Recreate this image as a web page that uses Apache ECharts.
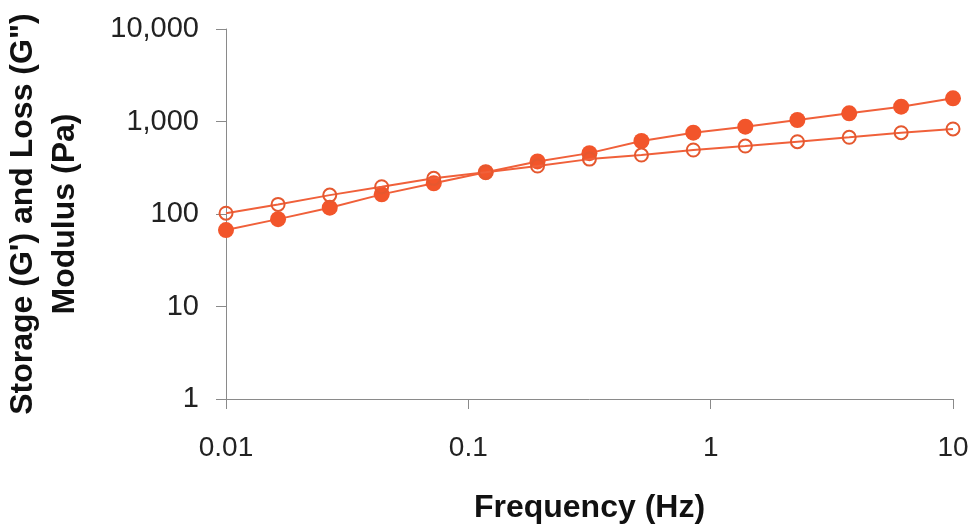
<!DOCTYPE html>
<html>
<head>
<meta charset="utf-8">
<script src="https://cdn.jsdelivr.net/npm/echarts@6/dist/echarts.min.js"></script>
<style>
html,body{margin:0;padding:0;background:#fff;}
#chart{width:976px;height:525px;}
</style>
</head>
<body>
<div id="chart"></div>
<script>
// Frequency (Hz)
const frequency = [0.01, 0.0164, 0.0268, 0.0439, 0.072, 0.118, 0.193, 0.316, 0.518, 0.848, 1.39, 2.28, 3.73, 6.11, 10];
// Storage modulus G' (Pa) - filled circles
const storageG1 = [67, 88, 117, 163, 215, 283, 370, 455, 615, 757, 879, 1038, 1225, 1445, 1780];
// Loss modulus G'' (Pa) - open circles
const lossG2 = [102, 127, 160, 197, 243, 282, 330, 392, 434, 492, 543, 605, 675, 757, 830];
const xTicks = ['0.01', '0.1', '1', '10'];
const yTicks = ['1', '10', '100', '1,000', '10,000'];

const fmt = v => {
  const r = Number(Number(v).toPrecision(6));
  return r.toLocaleString('en-US');
};

const chart = echarts.init(document.getElementById('chart'));
chart.setOption({
  animation: false,
  backgroundColor: '#fff',
  grid: { left: 226, right: 23, top: 29, bottom: 126, containLabel: false, outerBoundsMode: 'none' },
  xAxis: {
    type: 'log', logBase: 10, min: 0.01, max: 10,
    name: 'Frequency (Hz)', nameLocation: 'middle', nameGap: 93,
    nameTextStyle: { fontFamily: 'Liberation Sans', fontWeight: 'bold', fontSize: 32, color: '#111' },
    axisLine: { show: true, lineStyle: { color: '#8a8a8a', width: 1 } },
    axisTick: { show: true, inside: false, length: 10, lineStyle: { color: '#8a8a8a' } },
    minorTick: { show: false },
    splitLine: { show: false },
    axisLabel: {
      margin: 35, fontFamily: 'Liberation Sans', fontSize: 28, color: '#222',
      formatter: v => { const s = fmt(v); return xTicks.includes(s) ? s : ''; }
    }
  },
  yAxis: {
    type: 'log', logBase: 10, min: 1, max: 10000,
    name: "Storage (G') and Loss (G\")\nModulus (Pa)", nameLocation: 'middle', nameGap: 140,
    nameTextStyle: { fontFamily: 'Liberation Sans', fontWeight: 'bold', fontSize: 32, lineHeight: 42, color: '#111', align: 'center' },
    axisLine: { show: true, lineStyle: { color: '#8a8a8a', width: 1 } },
    axisTick: { show: true, inside: false, length: 10, lineStyle: { color: '#8a8a8a' } },
    splitLine: { show: false },
    axisLabel: {
      margin: 27, fontFamily: 'Liberation Sans', fontSize: 29, color: '#222',
      formatter: v => { const s = fmt(v); return yTicks.includes(s) ? s : ''; }
    }
  },
  series: [
    {
      name: "G'", type: 'line',
      data: frequency.map((f, i) => [f, storageG1[i]]),
      symbol: 'circle', symbolSize: 16,
      lineStyle: { color: '#f0603a', width: 2 },
      itemStyle: { color: '#f2552b', borderWidth: 0 },
      z: 2
    },
    {
      name: "G''", type: 'line',
      data: frequency.map((f, i) => [f, lossG2[i]]),
      symbol: 'circle', symbolSize: 13,
      lineStyle: { color: '#f0603a', width: 2 },
      itemStyle: { color: 'rgba(255,255,255,0)', borderColor: '#e5582f', borderWidth: 2 },
      z: 3
    }
  ]
});
</script>
</body>
</html>
